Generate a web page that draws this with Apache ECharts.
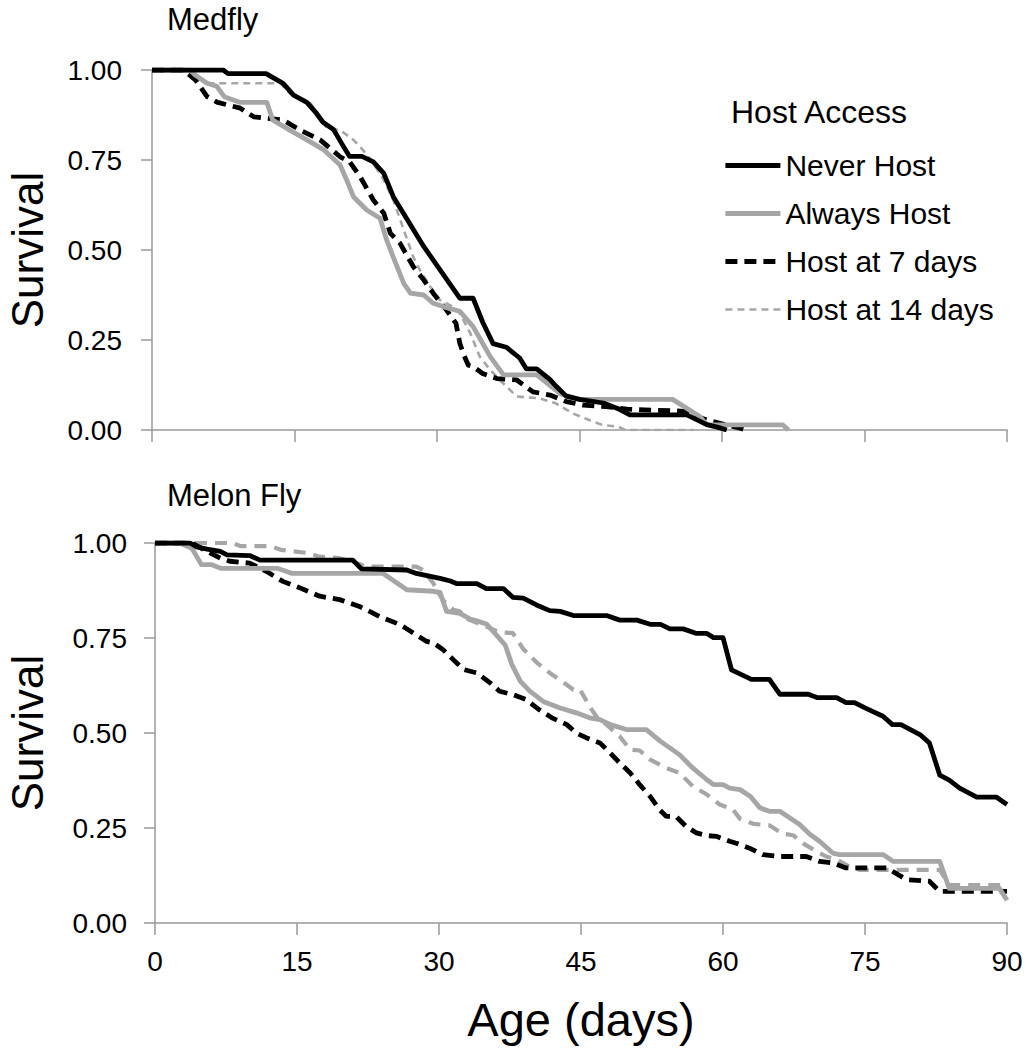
<!DOCTYPE html>
<html>
<head>
<meta charset="utf-8">
<script src="https://cdn.jsdelivr.net/npm/echarts@6/dist/echarts.min.js"></script>
<style>
html,body{margin:0;padding:0;background:#fff;}
#chart{width:1027px;height:1050px;}
</style>
</head>
<body>
<div id="chart"></div>
<script>
// ---- Data: [age in days, survival] ----
const seriesNames = ['Never Host', 'Always Host', 'Host at 7 days', 'Host at 14 days'];
const panelTitles = ['Medfly', 'Melon Fly'];
const legendTitle = 'Host Access';
const yAxisName = 'Survival';
const xAxisName = 'Age (days)';
const xTicks = [0, 15, 30, 45, 60, 75, 90];
const yTicks = [0, 0.25, 0.5, 0.75, 1];

// Medfly panel
const medflyNever = [[0,1],[7.5,1],[8,0.99],[12,0.99],[13.8,0.963],[14.9,0.93],[16.3,0.91],[17.3,0.88],[18,0.855],[19.1,0.835],[20.1,0.79],[20.8,0.76],[22.1,0.76],[23.3,0.745],[24.4,0.713],[25.4,0.648],[28.6,0.51],[32.4,0.366],[33.8,0.366],[34.8,0.30],[35.9,0.24],[37.3,0.23],[38.7,0.20],[39.4,0.17],[40.5,0.17],[41.9,0.14],[42.6,0.12],[43.6,0.094],[45,0.085],[47.5,0.075],[49,0.06],[50.3,0.042],[56.3,0.042],[58.4,0.015],[59.5,0.008],[60.5,0]];
const medflyAlways = [[0,1],[4,1],[4.6,0.985],[5.8,0.963],[6.8,0.955],[7.6,0.926],[9.3,0.91],[12.1,0.91],[12.7,0.861],[14.5,0.833],[16.3,0.806],[18.1,0.778],[19.8,0.736],[20.5,0.694],[21.2,0.648],[22.6,0.611],[24,0.588],[24.7,0.528],[25.4,0.48],[26.5,0.407],[27.2,0.38],[28.6,0.375],[29.6,0.352],[31,0.34],[32.4,0.33],[33.8,0.287],[35.6,0.204],[37,0.153],[40.5,0.153],[43,0.1],[45,0.085],[54.8,0.085],[57.7,0.037],[58.4,0.014],[66.4,0.014],[67,0]];
const medfly7 = [[0,1],[3.3,1],[4.6,0.972],[5.8,0.926],[6.9,0.91],[9.3,0.894],[10.7,0.87],[12.1,0.866],[13.8,0.861],[15.6,0.833],[17.7,0.806],[19.8,0.759],[20.8,0.745],[21.9,0.704],[23.3,0.639],[24.4,0.602],[25.1,0.546],[26.1,0.519],[27.5,0.454],[28.6,0.417],[29.6,0.38],[31,0.333],[32,0.296],[32.4,0.241],[32.8,0.21],[33.3,0.18],[33.8,0.176],[34.8,0.157],[36.3,0.143],[38.4,0.139],[40.1,0.106],[41.9,0.097],[43.6,0.079],[45.4,0.069],[47.8,0.065],[50,0.058],[56,0.052],[57,0.04],[58.4,0.028],[60.5,0.014],[61.9,0.005],[62.5,0]];
const medfly14 = [[0,1],[4,1],[5,0.975],[5.8,0.963],[13.5,0.963],[14.5,0.935],[15.6,0.917],[16.7,0.907],[17.7,0.87],[18.4,0.838],[19.8,0.833],[21.2,0.806],[22.2,0.778],[23.3,0.741],[24.4,0.694],[25.4,0.639],[26.5,0.556],[27.5,0.481],[28.2,0.444],[29.3,0.398],[30.3,0.361],[31.5,0.345],[32.4,0.324],[33.5,0.269],[34.5,0.204],[35.6,0.167],[36.6,0.139],[38.4,0.093],[40.8,0.088],[42.5,0.074],[44.3,0.046],[46,0.028],[47.4,0.014],[49.1,0.009],[49.8,0],[57,0]];

// Melon fly panel
const melonNever = [[0,1],[3.7,1],[4.4,0.99],[5.5,0.984],[6.9,0.978],[7.6,0.969],[10,0.967],[11.1,0.955],[20.9,0.955],[21.8,0.932],[26.6,0.929],[27.6,0.92],[30.1,0.907],[31.2,0.9],[31.9,0.893],[34,0.893],[35,0.88],[36.8,0.88],[37.8,0.857],[38.9,0.855],[40.3,0.837],[41.7,0.822],[42.8,0.82],[44.2,0.809],[47.7,0.809],[49.1,0.797],[50.9,0.797],[52.3,0.786],[53.4,0.786],[54.4,0.774],[55.8,0.774],[57.2,0.762],[58.3,0.762],[59,0.751],[60,0.751],[60.9,0.666],[63,0.641],[64.9,0.641],[66,0.602],[69,0.602],[70,0.593],[72,0.593],[73,0.58],[73.9,0.58],[75,0.566],[76.9,0.544],[77.9,0.522],[78.8,0.522],[80.8,0.496],[81.8,0.474],[82.9,0.389],[83.9,0.376],[85,0.355],[86.8,0.331],[88.9,0.331],[90,0.312]];
const melonAlways = [[0,1],[2.6,1],[3.9,0.986],[4.9,0.943],[6,0.943],[7,0.933],[13,0.933],[14.5,0.92],[24.1,0.92],[26.6,0.877],[29.4,0.873],[30.1,0.87],[30.8,0.82],[32.2,0.815],[33.3,0.8],[34,0.795],[35,0.787],[36.1,0.757],[37,0.731],[37.7,0.68],[38.6,0.636],[39.6,0.61],[41,0.583],[42.8,0.566],[44.5,0.553],[45.9,0.54],[47,0.535],[48.1,0.522],[49.8,0.509],[51.9,0.509],[53.4,0.478],[55.4,0.443],[56.8,0.408],[58.3,0.377],[59,0.364],[60,0.364],[60.7,0.355],[61.8,0.351],[62.9,0.333],[63.9,0.303],[64.9,0.294],[66,0.294],[68.1,0.259],[69.2,0.233],[70.2,0.215],[71.6,0.184],[72.3,0.18],[76.9,0.18],[78,0.162],[82.9,0.162],[83.9,0.091],[89.2,0.091],[90,0.06]];
const melon7 = [[0,1],[3.9,1],[5.5,0.978],[6.9,0.96],[7.9,0.952],[10,0.947],[11.8,0.925],[13.5,0.899],[15.3,0.882],[17.4,0.86],[19.5,0.851],[21.6,0.833],[23.7,0.807],[25.9,0.785],[27.3,0.763],[28.7,0.741],[29.4,0.737],[30.4,0.72],[31.5,0.693],[32.6,0.667],[34,0.658],[35.4,0.632],[36.4,0.61],[37.8,0.601],[39.2,0.588],[40.6,0.561],[42,0.539],[43.5,0.522],[44.5,0.5],[45.6,0.487],[47,0.474],[48.1,0.447],[49.1,0.421],[50.2,0.395],[51.2,0.364],[52.3,0.333],[53.3,0.298],[54,0.281],[55.1,0.279],[56.1,0.254],[57.2,0.237],[58.3,0.23],[59.3,0.228],[60.7,0.215],[61.4,0.21],[62.8,0.197],[64.2,0.18],[66,0.175],[68.8,0.175],[70.2,0.162],[71.6,0.158],[73,0.145],[77.3,0.145],[79.4,0.114],[81.8,0.11],[82.9,0.083],[90,0.083]];
const melon14 = [[0,1],[8.2,1],[9,0.992],[12.2,0.992],[13.3,0.982],[16,0.974],[17.4,0.964],[19.5,0.96],[20.9,0.951],[22.3,0.938],[27.6,0.938],[28.3,0.929],[29.4,0.894],[30.4,0.85],[31.5,0.824],[32.2,0.82],[33,0.8],[34,0.79],[35,0.78],[36.4,0.765],[37.8,0.763],[38.9,0.721],[40.3,0.686],[41.7,0.658],[43.2,0.632],[44.2,0.614],[44.9,0.614],[45.9,0.57],[46.6,0.544],[47.7,0.522],[49.1,0.491],[50.2,0.456],[51.2,0.454],[52.3,0.43],[54,0.408],[55.4,0.395],[56.8,0.36],[58.3,0.338],[59.7,0.311],[61,0.3],[61.8,0.274],[63.2,0.261],[64.9,0.257],[66.3,0.235],[67.4,0.231],[68.5,0.209],[69.9,0.188],[70.9,0.175],[72,0.167],[73.3,0.149],[74.4,0.14],[82.9,0.14],[83.9,0.1],[90,0.1]];

// ---- Chart ----
const FONT = '"Liberation Sans", Arial, sans-serif';
const AXIS_GRAY = '#9a9a9a';
const GRAY = '#a6a6a6';

const chart = echarts.init(document.getElementById('chart'), null, {renderer: 'svg'});

function xAxisCfg(gi, showLabels) {
  return {
    gridIndex: gi, type: 'value', min: xTicks[0], max: xTicks[xTicks.length - 1], interval: 15,
    axisLine: {show: true, lineStyle: {color: AXIS_GRAY, width: 1.5}},
    axisTick: {show: true, length: 12, lineStyle: {color: AXIS_GRAY, width: 1.5}},
    splitLine: {show: false},
    axisLabel: {show: showLabels, margin: 24, color: '#000', fontSize: 28, fontFamily: FONT},
    name: showLabels ? xAxisName : '',
    nameLocation: 'middle', nameGap: 73,
    nameTextStyle: {fontSize: 47, lineHeight: 47, color: '#000', fontFamily: FONT}
  };
}
function yAxisCfg(gi, gap, margin) {
  return {
    gridIndex: gi, type: 'value', min: yTicks[0], max: yTicks[yTicks.length - 1], interval: 0.25,
    axisLine: {show: true, lineStyle: {color: AXIS_GRAY, width: 1.5}},
    axisTick: {show: true, length: 11, lineStyle: {color: AXIS_GRAY, width: 1.5}},
    splitLine: {show: false},
    axisLabel: {margin: margin, color: '#000', fontSize: 28, fontFamily: FONT,
      formatter: v => v.toFixed(2)},
    name: yAxisName, nameLocation: 'middle', nameGap: gap,
    nameTextStyle: {fontSize: 44, lineHeight: 44, color: '#000', fontFamily: FONT}
  };
}

const styles = [
  {color: '#000', width: 4.8, type: 'solid'},
  {color: GRAY, width: 4.8, type: 'solid'},
  {color: '#000', width: 4.8, type: [12, 7]},
  {color: GRAY, width: 2.6, type: [7, 5]}
];
const styles2 = styles.slice(0, 3).concat([{color: GRAY, width: 4.2, type: [12, 8]}]);

const topData = [medflyNever, medflyAlways, medfly7, medfly14];
const botData = [melonNever, melonAlways, melon7, melon14];

const series = [];
topData.forEach((d, i) => series.push({
  name: seriesNames[i], type: 'line', xAxisIndex: 0, yAxisIndex: 0, data: d,
  symbol: 'none', showSymbol: false, silent: true, animation: false, z: 10 - i,
  color: styles[i].color,
  lineStyle: {color: styles[i].color, width: styles[i].width, type: styles[i].type, join: 'round', cap: 'butt'}
}));
botData.forEach((d, i) => series.push({
  name: seriesNames[i], type: 'line', xAxisIndex: 1, yAxisIndex: 1, data: d,
  symbol: 'none', showSymbol: false, silent: true, animation: false, z: 10 - i,
  color: styles2[i].color,
  lineStyle: {color: styles2[i].color, width: styles2[i].width, type: styles2[i].type, join: 'round', cap: 'butt'}
}));

chart.setOption({
  backgroundColor: '#fff',
  animation: false,
  title: [
    {text: panelTitles[0], left: 167, top: 4, padding: 0, textStyle: {fontSize: 31, lineHeight: 31, fontWeight: 'normal', color: '#000', fontFamily: FONT}},
    {text: panelTitles[1], left: 167, top: 480, padding: 0, textStyle: {fontSize: 31, lineHeight: 31, fontWeight: 'normal', color: '#000', fontFamily: FONT}},
    {text: legendTitle, left: 731, top: 96, padding: 0, textStyle: {fontSize: 32, lineHeight: 32, fontWeight: 'normal', color: '#000', fontFamily: FONT}}
  ],
  legend: {
    data: seriesNames, orient: 'vertical', left: 723, top: 150, padding: 0,
    itemWidth: 55, itemHeight: 14, itemGap: 17, selectedMode: false,
    itemStyle: {opacity: 0, borderWidth: 0},
    lineStyle: {width: 'inherit'},
    textStyle: {fontSize: 30, lineHeight: 31, color: '#000', fontFamily: FONT}
  },
  grid: [
    {left: 152, width: 855, top: 70, height: 360, containLabel: false, outerBoundsMode: 'none'},
    {left: 155, width: 852, top: 543, height: 380, containLabel: false, outerBoundsMode: 'none'}
  ],
  xAxis: [xAxisCfg(0, false), xAxisCfg(1, true)],
  yAxis: [yAxisCfg(0, 103, 30), yAxisCfg(1, 106, 28)],
  series: series
});
</script>
</body>
</html>
